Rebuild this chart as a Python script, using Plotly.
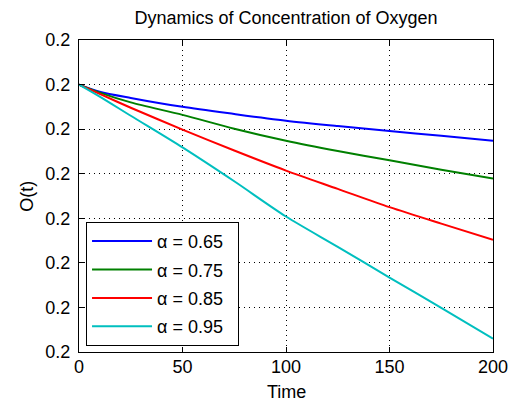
import plotly.graph_objects as go

time = [0, 10, 25, 50, 75, 100, 125, 150, 175, 200]
o_065 = [0.2, 0.199984, 0.199970, 0.199950, 0.199934, 0.199919, 0.199907, 0.199896, 0.199885, 0.199874]
o_075 = [0.2, 0.199982, 0.199960, 0.199932, 0.199901, 0.199874, 0.199851, 0.199830, 0.199809, 0.199789]
o_085 = [0.2, 0.199979, 0.199948, 0.199899, 0.199852, 0.199807, 0.199766, 0.199725, 0.199688, 0.199652]
o_095 = [0.2, 0.199973, 0.199930, 0.199859, 0.199783, 0.199704, 0.199636, 0.199567, 0.199499, 0.199430]

series_names = ["α = 0.65", "α = 0.75", "α = 0.85", "α = 0.95"]
series_values = [o_065, o_075, o_085, o_095]
series_colors = ["#0000FF", "#008000", "#FF0000", "#00BFBF"]

x_tick_vals = [0, 50, 100, 150, 200]
x_tick_text = ["0", "50", "100", "150", "200"]
y_tick_vals = [0.1994, 0.1995, 0.1996, 0.1997, 0.1998, 0.1999, 0.2000, 0.2001]
y_tick_text = ["0.2"] * 8

FONT = "Liberation Sans, Arial, Helvetica, sans-serif"

fig = go.Figure()
for i, (name, vals, col) in enumerate(zip(series_names, series_values, series_colors)):
    fig.add_trace(go.Scatter(
        x=time, y=vals, mode="lines", name=name + "\u00a0\u00a0",
        line=dict(color=col, width=2, shape="spline", smoothing=0.8),
        legendgroup=f"g{i}",
    ))

axis_common = dict(
    showline=True, linecolor="black", linewidth=1, mirror="ticks",
    ticks="inside", ticklen=5, tickcolor="black",
    showgrid=True, gridcolor="black", gridwidth=1, griddash="1px,4px",
    zeroline=False, automargin=False,
    tickfont=dict(family=FONT, size=18, color="black"),
)

fig.update_xaxes(range=[0, 200], tickvals=x_tick_vals, ticktext=x_tick_text,
                 ticklabelstandoff=-2, **axis_common)
fig.update_yaxes(range=[0.1994, 0.2001], tickvals=y_tick_vals, ticktext=y_tick_text,
                 ticklabelstandoff=4, **axis_common)

fig.update_layout(
    width=511, height=405,
    margin=dict(l=79, r=18, t=40, b=53, autoexpand=False),
    paper_bgcolor="white", plot_bgcolor="white",
    font=dict(family=FONT, size=18, color="black"),
    title=dict(text="Dynamics of Concentration of Oxygen", x=0.5, xref="paper",
               y=1 - 18 / 405, yref="container", yanchor="middle", xanchor="center",
               font=dict(family=FONT, size=18, color="black")),
    showlegend=True,
    legend=dict(x=0.017, y=0.417, xanchor="left", yanchor="top",
                bgcolor="white", bordercolor="black", borderwidth=1,
                traceorder="grouped", tracegroupgap=2, itemwidth=60,
                font=dict(family=FONT, size=18, color="black")),
    annotations=[
        dict(text="O(t)", xref="paper", yref="paper", x=-0.126, y=0.5,
             textangle=-90, showarrow=False, xanchor="center", yanchor="middle",
             font=dict(family=FONT, size=18, color="black")),
        dict(text="Time", xref="paper", yref="paper", x=0.5, y=-40 / 312,
             showarrow=False, xanchor="center", yanchor="middle",
             font=dict(family=FONT, size=18, color="black")),
    ],
)

fig.write_html("out.html")
